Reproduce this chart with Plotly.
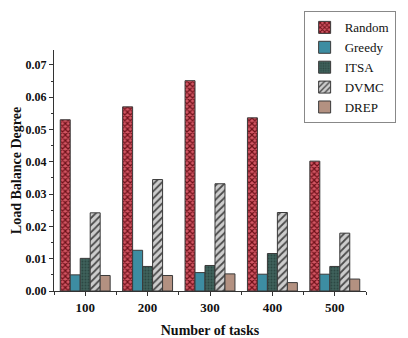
import plotly.graph_objects as go

# Number of tasks (x categories)
tasks = ["100", "200", "300", "400", "500"]

# Load balance degree per scheduling method
random_vals = [0.0530, 0.0570, 0.0651, 0.0536, 0.0402]
greedy_vals = [0.0050, 0.0126, 0.0057, 0.0052, 0.0052]
itsa_vals = [0.0101, 0.0076, 0.0079, 0.0116, 0.0076]
dvmc_vals = [0.0242, 0.0345, 0.0332, 0.0243, 0.0179]
drep_vals = [0.0048, 0.0048, 0.0053, 0.0026, 0.0037]

y_ticks = [0.00, 0.01, 0.02, 0.03, 0.04, 0.05, 0.06, 0.07]
y_tick_text = [f"{v:.2f}" for v in y_ticks]

FONT = "Liberation Serif, Times New Roman, serif"
xpos = list(range(len(tasks)))

series = [
    ("Random", random_vals, dict(shape="x", bgcolor="#d25663", fgcolor="#6e1019", size=4, solidity=0.5)),
    ("Greedy", greedy_vals, dict(shape="", bgcolor="#3d8da2", fgcolor="#3d8da2")),
    ("ITSA", itsa_vals, dict(shape=".", bgcolor="#3f615b", fgcolor="#2c4843", size=3, solidity=0.3)),
    ("DVMC", dvmc_vals, dict(shape="/", bgcolor="#cdcdcd", fgcolor="#4a4a4a", size=5, solidity=0.35)),
    ("DREP", drep_vals, dict(shape="", bgcolor="#b39181", fgcolor="#b39181")),
]

fig = go.Figure()
for name, vals, pat in series:
    fill = pat["bgcolor"]
    marker = dict(color=fill, line=dict(color="#3a3a3a", width=1))
    if pat["shape"]:
        marker["pattern"] = dict(shape=pat["shape"], bgcolor=pat["bgcolor"],
                                 fgcolor=pat["fgcolor"], size=pat["size"],
                                 solidity=pat["solidity"], fillmode="replace")
    fig.add_trace(go.Bar(name=name, x=xpos, y=vals, marker=marker))

fig.update_layout(
    width=408, height=338,
    margin=dict(l=54, r=29, t=29, b=47),
    barmode="group", bargap=0.2, bargroupgap=0,
    plot_bgcolor="white", paper_bgcolor="white",
    font=dict(family=FONT, color="#111111"),
    legend=dict(
        x=1.095, y=1.16, xanchor="right", yanchor="top",
        bgcolor="white", bordercolor="#888888", borderwidth=1,
        font=dict(family=FONT, size=13, color="#111111"),
        tracegroupgap=0, itemwidth=30,
    ),
    xaxis=dict(
        range=[-0.5, 4.5], automargin=False,
        tickmode="array", tickvals=xpos, ticktext=tasks,
        showline=True, linecolor="#333333", linewidth=1,
        ticks="outside", ticklen=4, tickcolor="#333333",
        minor=dict(dtick=0.5, tick0=0.5, ticks="outside", ticklen=3, tickcolor="#333333"),
        showgrid=False, zeroline=False,
        tickfont=dict(family=FONT, size=13, color="#111111", weight="bold"),
        title=dict(text="<b>Number of tasks</b>", font=dict(family=FONT, size=14, color="#111111"), standoff=11),
    ),
    yaxis=dict(
        range=[0, 0.0746], automargin=False,
        tickmode="array", tickvals=y_ticks, ticktext=y_tick_text,
        showline=True, linecolor="#333333", linewidth=1,
        ticks="outside", ticklen=4, tickcolor="#333333",
        minor=dict(dtick=0.005, ticks="outside", ticklen=2, tickcolor="#333333"),
        showgrid=False, zeroline=False,
        tickfont=dict(family=FONT, size=12, color="#111111", weight="bold"),
        title=dict(text="<b>Load Balance Degree</b>", font=dict(family=FONT, size=14, color="#111111"), standoff=0),
    ),
)

fig.write_html("out.html")
